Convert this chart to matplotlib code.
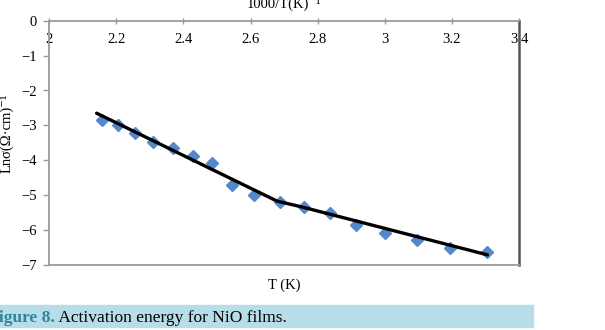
import matplotlib
matplotlib.use("Agg")
import matplotlib.pyplot as plt
from matplotlib.patches import Rectangle

# Data: 1000/T (K^-1) vs ln(sigma)
inv_T = [2.156, 2.206, 2.256, 2.310, 2.370, 2.427, 2.485, 2.544, 2.609,
         2.687, 2.758, 2.838, 2.913, 3.002, 3.097, 3.194, 3.306]
ln_sigma = [-2.85, -2.99, -3.23, -3.47, -3.66, -3.87, -4.09, -4.71, -5.00,
            -5.19, -5.33, -5.52, -5.85, -6.09, -6.28, -6.52, -6.62]

# Fitted line (two linear regions)
fit_x = [2.141, 2.60, 2.679, 2.75, 3.306]
fit_y = [-2.65, -4.80, -5.17, -5.33, -6.71]

x_ticks = [2, 2.2, 2.4, 2.6, 2.8, 3, 3.2, 3.4]
x_tick_labels = ["2", "2.2", "2.4", "2.6", "2.8", "3", "3.2", "3.4"]
y_ticks = [0, -1, -2, -3, -4, -5, -6, -7]
y_tick_labels = ["0", "\u22121", "\u22122", "\u22123", "\u22124", "\u22125", "\u22126", "\u22127"]

serif = ["Liberation Serif", "DejaVu Serif"]
plt.rcParams["font.family"] = serif

W, H = 605, 330
fig = plt.figure(figsize=(W / 100, H / 100), dpi=100)
L, R, T, B = 49.3, 519, 20.7, 265
ax = fig.add_axes([L / W, 1 - B / H, (R - L) / W, (B - T) / H])

ax.plot(inv_T, ln_sigma, linestyle="none", marker="D", markersize=6.5,
        color="#5389cc", zorder=2)
ax.plot(fit_x, fit_y, color="black", linewidth=2.4, zorder=3,
        solid_capstyle="round", solid_joinstyle="round")

ax.set_xlim(2, 3.4)
ax.set_ylim(-7, 0)

ax.set_xticks(x_ticks)
ax.set_xticklabels(x_tick_labels)
ax.set_yticks(y_ticks)
ax.set_yticklabels(y_tick_labels)

ax.xaxis.set_ticks_position("top")
ax.tick_params(axis="x", which="both", top=True, bottom=False, labeltop=True,
               labelbottom=False, direction="inout", length=4, width=1,
               color="#999999", pad=-20, labelsize=10.5)
ax.tick_params(axis="y", left=True, right=False, direction="out", length=4,
               width=1, color="#999999", pad=5, labelsize=10.5)

for s in ["top", "bottom", "left"]:
    ax.spines[s].set_color("#9a9a9a")
    ax.spines[s].set_linewidth(1.3)
ax.spines["right"].set_color("#555555")
ax.spines["right"].set_linewidth(1.8)

ax.xaxis.set_label_position("bottom")
ax.set_xlabel("T (K)", fontsize=10.5, labelpad=10)
ax.set_ylabel("Ln\u03c3(\u03a9\u00b7cm)\u207b\u00b9", fontsize=10.5)
ax.yaxis.set_label_coords(-0.075, 0.54)

fig.text(284 / W, 1 - 8 / H, "1000/T(K)\u207b\u00b9", ha="center", va="baseline",
         fontsize=10.5)

# Caption band
fig.add_artist(Rectangle((0, 1 - 327 / H), 533 / W, 22 / H,
                         transform=fig.transFigure, color="#b7dde8", zorder=0))
t1 = fig.text(-1 / W, 1 - 321.5 / H, "igure 8.", ha="left", va="baseline",
              fontsize=12.5, fontweight="bold", color="#31849b")
ax.annotate(" Activation energy for NiO films.", xy=(1, 0), xycoords=t1,
            ha="left", va="bottom", fontsize=12.5, color="black",
            annotation_clip=False)

fig.savefig("out.png", dpi=100)
